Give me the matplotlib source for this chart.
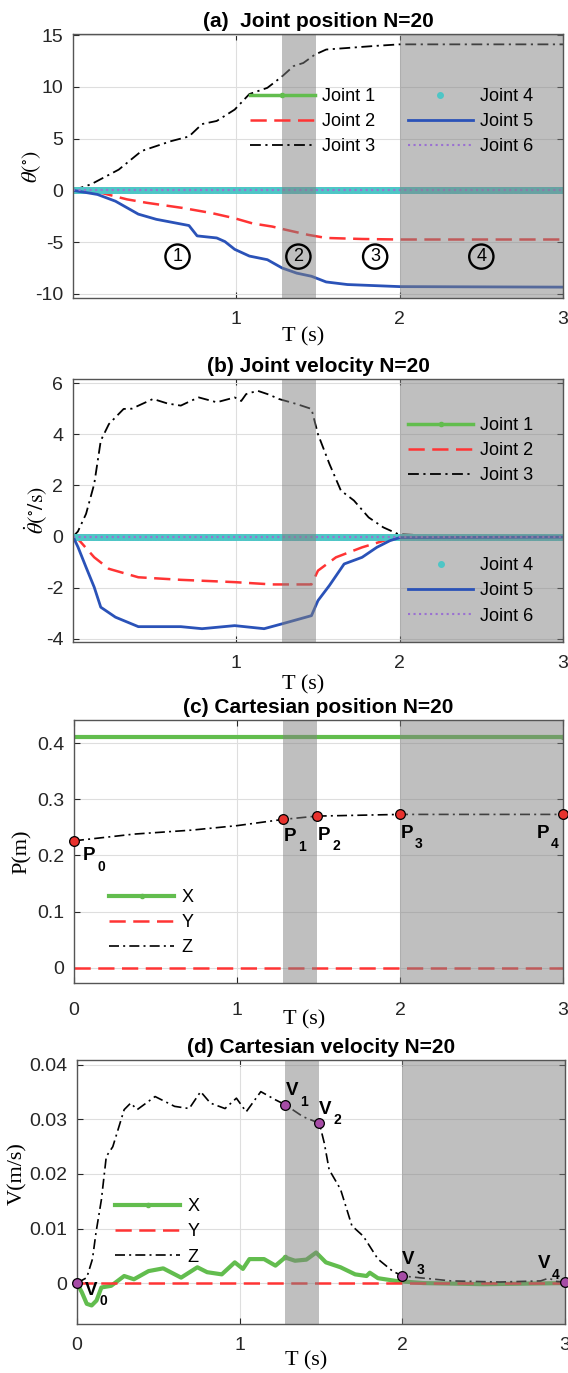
import numpy as np
import matplotlib
matplotlib.use("Agg")
import matplotlib.pyplot as plt

plt.rcParams['font.family'] = ['Liberation Sans', 'DejaVu Sans']
plt.rcParams['mathtext.fontset'] = 'stix'
plt.rcParams['axes.unicode_minus'] = False

# ---------------- data ----------------
# (a) joint position (deg)
t_j2 = [0, 0.05, 0.15, 0.33, 0.45, 0.67, 0.85, 0.99, 1.10, 1.22, 1.30, 1.44, 1.55, 1.77, 2.0, 3.0]
pos_j2 = [0, -0.02, -0.15, -0.87, -1.2, -1.7, -2.2, -2.7, -3.2, -3.5, -3.8, -4.3, -4.6, -4.7, -4.75, -4.75]
t_j3 = [0, 0.11, 0.28, 0.42, 0.60, 0.71, 0.79, 0.88, 0.99, 1.08, 1.19, 1.28, 1.35, 1.41, 1.48, 1.55, 1.68, 1.85, 2.0, 3.0]
pos_j3 = [0, 0.58, 2.0, 3.8, 4.75, 5.2, 6.4, 6.7, 7.8, 9.3, 9.9, 11.0, 12.0, 12.3, 13.1, 13.6, 13.75, 13.95, 14.1, 14.1]
t_j5 = [0, 0.15, 0.26, 0.40, 0.51, 0.71, 0.76, 0.88, 0.93, 0.99, 1.08, 1.19, 1.28, 1.37, 1.46, 1.55, 1.68, 2.0, 3.0]
pos_j5 = [0, -0.4, -1.05, -2.3, -2.8, -3.4, -4.4, -4.6, -4.95, -5.7, -6.35, -6.7, -7.5, -8.0, -8.3, -8.85, -9.1, -9.3, -9.35]

# joints 1, 4, 6 stay at zero; dense time grid for the dotted/marker series
t_dense = np.linspace(0, 3, 301)
zero_dense = np.zeros_like(t_dense)

# (b) joint velocity (deg/s)
tv_j2 = [0, 0.04, 0.13, 0.22, 0.40, 0.66, 0.99, 1.22, 1.46, 1.50, 1.61, 1.77, 1.94, 2.0, 3.0]
vel_j2 = [0, -0.16, -0.81, -1.26, -1.59, -1.69, -1.78, -1.87, -1.87, -1.33, -0.81, -0.42, -0.09, -0.02, 0.0]
tv_j3 = [0, 0.03, 0.08, 0.13, 0.17, 0.22, 0.31, 0.36, 0.49, 0.58, 0.66, 0.72, 0.77, 0.88, 0.99, 1.03,
         1.06, 1.13, 1.20, 1.26, 1.37, 1.46, 1.50, 1.57, 1.64, 1.72, 1.81, 1.90, 1.99, 2.2, 2.5, 2.8, 2.9, 2.95, 3.0]
vel_j3 = [0, 0.2, 0.89, 2.06, 3.75, 4.4, 4.99, 5.0, 5.38, 5.2, 5.12, 5.3, 5.44, 5.25, 5.44, 5.3,
          5.57, 5.7, 5.55, 5.38, 5.18, 4.99, 4.0, 2.84, 1.8, 1.41, 0.75, 0.36, 0.1, 0.03, 0.02, 0.03, 0.07, 0.02, 0.01]
tv_j5 = [0, 0.03, 0.08, 0.13, 0.17, 0.26, 0.40, 0.66, 0.79, 0.99, 1.17, 1.28, 1.46, 1.50, 1.57, 1.66,
         1.77, 1.86, 1.94, 2.0, 2.5, 3.0]
vel_j5 = [0, -0.4, -1.2, -1.98, -2.76, -3.15, -3.52, -3.52, -3.6, -3.48, -3.6, -3.41, -3.09, -2.5, -1.91, -1.07,
          -0.81, -0.42, -0.16, -0.04, -0.03, -0.02]

# (c) cartesian position (m)
tp = [0, 3.0]
px = [0.411, 0.411]
py = [0.0, 0.0]
tp_z = [0, 0.37, 0.72, 1.0, 1.28, 1.49, 2.0, 3.0]
pz = [0.226, 0.238, 0.245, 0.253, 0.264, 0.270, 0.273, 0.273]
tP = [0, 1.28, 1.49, 2.0, 3.0]
zP = [0.226, 0.264, 0.270, 0.273, 0.273]
P_names = ['0', '1', '2', '3', '4']

# (d) cartesian velocity (m/s)
tv_x = [0, 0.03, 0.06, 0.09, 0.12, 0.15, 0.21, 0.29, 0.35, 0.44, 0.53, 0.64, 0.74, 0.80, 0.89, 0.97,
        1.02, 1.06, 1.15, 1.22, 1.28, 1.34, 1.41, 1.47, 1.53, 1.62, 1.71, 1.78, 1.80, 1.85, 1.96, 2.13, 2.5, 3.0]
vx = [0, -0.0017, -0.0038, -0.0041, -0.0032, -0.0008, -0.0005, 0.0013, 0.0007, 0.0022, 0.0027, 0.001,
      0.0029, 0.002, 0.0016, 0.0038, 0.0026, 0.0044, 0.0044, 0.0032, 0.0047, 0.0041, 0.0043, 0.0056,
      0.0038, 0.0029, 0.0016, 0.0013, 0.0019, 0.0009, 0.0004, 0.0, -0.0002, 0.0]
tv_z = [0, 0.06, 0.095, 0.117, 0.15, 0.18, 0.22, 0.29, 0.33, 0.37, 0.48, 0.60, 0.69, 0.76, 0.82, 0.91,
        0.98, 1.04, 1.13, 1.22, 1.28, 1.39, 1.49, 1.52, 1.55, 1.62, 1.69, 1.76, 1.85, 1.94, 2.0, 2.3,
        2.6, 2.85, 2.9, 2.95, 3.0]
vz = [0, 0.001, 0.0044, 0.0093, 0.0153, 0.0232, 0.025, 0.0318, 0.033, 0.0318, 0.0342, 0.0324, 0.032,
      0.0351, 0.033, 0.032, 0.0339, 0.0314, 0.0351, 0.0336, 0.0327, 0.0305, 0.0293, 0.0257, 0.0208,
      0.0172, 0.0105, 0.0086, 0.0044, 0.0022, 0.0013, 0.0004, 0.0002, 0.0004, 0.0009, 0.0003, 0.0002]
tV = [0, 1.28, 1.49, 2.0, 3.0]
vV = [0, 0.0327, 0.0293, 0.0013, 0.0002]

phase2 = (1.28, 1.49)
phase4 = (2.0, 3.0)

# ---------------- styles ----------------
GREEN = '#62bd4e'
RED = '#ff3434'
BLUE = '#2a52b8'
CYAN = '#4ec6c6'
PURPLE = '#9a70d2'
AXC = '#262626'
DASH = (6.5, 3)
DASHDOT = (6, 2.5, 1.2, 2.5)

fig = plt.figure(figsize=(5.68, 13.73), dpi=100)
W, H = 568.0, 1373.0


def make_ax(l, r, top, bot):
    return fig.add_axes([l / W, 1 - bot / H, (r - l) / W, (bot - top) / H])


def style(ax, title, ylabel, xticks, xlab_y, ylab_x, ylab_y=0.5):
    ax.set_xlim(0, 3)
    ax.set_xticks(xticks)
    ax.grid(True, color='#dedede', lw=0.8)
    ax.set_axisbelow(True)
    ax.tick_params(direction='in', top=True, right=True, length=4, width=0.8,
                   labelsize=14, colors=AXC, pad=7)
    ax.tick_params(axis='x', pad=9)
    for s in ax.spines.values():
        s.set_color('#555555')
        s.set_linewidth(1.0)
    ax.set_title(title, fontsize=15, fontweight='bold', pad=5)
    ax.set_xlabel('T (s)', family='Liberation Serif', fontsize=16)
    ax.xaxis.set_label_coords(0.47, xlab_y)
    ax.set_ylabel(ylabel, family='Liberation Serif', fontsize=16, labelpad=0)
    ax.yaxis.set_label_coords(ylab_x, ylab_y)
    for a, b in (phase2, phase4):
        ax.axvspan(a, b, color='0.5', alpha=0.5, lw=0, zorder=2.5)


def joint_lines(ax, t1, y1, t2, y2, t3, y3):
    l1, = ax.plot(t_dense, zero_dense, color=GREEN, lw=2.5, marker='.', ms=6, markevery=150,
                  label='Joint 1')
    l2, = ax.plot(t1, y1, color=RED, lw=1.8, dashes=DASH, label='Joint 2')
    l3, = ax.plot(t2, y2, color='black', lw=1.3, dashes=DASHDOT, label='Joint 3')
    l4, = ax.plot(t_dense, zero_dense, ls='none', color=CYAN, marker='.', ms=8, label='Joint 4')
    l5, = ax.plot(t3, y3, color=BLUE, lw=2.0, label='Joint 5')
    l6, = ax.plot(t_dense, zero_dense, color=PURPLE, lw=1.5, ls=':', label='Joint 6')
    return [l1, l2, l3, l4, l5, l6]


leg_kw = dict(frameon=False, fontsize=13, handlelength=3.6, handletextpad=0.4,
              labelspacing=0.45, borderpad=0, borderaxespad=0, numpoints=1, loc='upper left')

# ---- (a) ----
ax = make_ax(73, 563, 34, 298)
lines = joint_lines(ax, t_j2, pos_j2, t_j3, pos_j3, t_j5, pos_j5)
ax.set_ylim(-10.4, 15.1)
ax.set_yticks([-10, -5, 0, 5, 10, 15])
style(ax, '(a)  Joint position N=20', r'$\theta(^{\circ})$', [1, 2, 3], -0.11, -0.061)
ax.legend(handles=lines, ncol=2, columnspacing=1.8, bbox_to_anchor=(0.361, 0.795), **leg_kw)
for txt, tx in zip(['1', '2', '3', '4'], [0.64, 1.38, 1.85, 2.50]):
    ax.text(tx, -6.4, txt, ha='center', va='center', fontsize=13, zorder=6,
            bbox=dict(boxstyle='circle,pad=0.2', fc='none', ec='black', lw=1.7))

# ---- (b) ----
ax = make_ax(73, 563, 379, 642)
lines = joint_lines(ax, tv_j2, vel_j2, tv_j3, vel_j3, tv_j5, vel_j5)
ax.set_ylim(-4.12, 6.16)
ax.set_yticks([-4, -2, 0, 2, 4, 6])
style(ax, '(b) Joint velocity N=20', r'$\dot{\theta}(^{\circ}/\mathrm{s})$', [1, 2, 3], -0.125, -0.047)
lg1 = ax.legend(handles=lines[:3], bbox_to_anchor=(0.684, 0.855), **leg_kw)
ax.add_artist(lg1)
ax.legend(handles=lines[3:], bbox_to_anchor=(0.684, 0.322), **leg_kw)


def sub_label(ax, x, y, letter, num, dx, dy):
    # letter with a subscript digit, offsets in pixels from the marker
    k = 0.72
    ax.annotate(letter, (x, y), xytext=(dx * k, dy * k), textcoords='offset points',
                ha='left', va='center', fontsize=13.5, fontweight='bold', zorder=7)
    ax.annotate(num, (x, y), xytext=((dx + 18) * k, (dy - 11) * k), textcoords='offset points',
                ha='center', va='center', fontsize=10, fontweight='bold', zorder=7)


# ---- (c) ----
ax = make_ax(74, 563, 720, 983)
ax.plot(tp, px, color=GREEN, lw=3, marker='.', ms=6, markevery=[1], label='X')
ax.plot(tp, py, color=RED, lw=1.8, dashes=DASH, label='Y')
ax.plot(tp_z, pz, color='black', lw=1.2, dashes=DASHDOT, label='Z')
ax.plot(tP, zP, ls='none', marker='o', ms=7, mfc='#e8322e', mec='black', mew=0.9, zorder=4,
        clip_on=False)
ax.set_ylim(-0.027, 0.441)
ax.set_yticks([0, 0.1, 0.2, 0.3, 0.4])
ax.set_yticklabels(['0', '0.1', '0.2', '0.3', '0.4'])
style(ax, '(c) Cartesian position N=20', 'P(m)', [0, 1, 2, 3], -0.105, -0.086)
ax.tick_params(axis='x', pad=14)
ax.legend(bbox_to_anchor=(0.072, 0.357), **leg_kw)
p_off = [(9, -15), (1, -17), (1, -19), (1, -19), (-26, -19)]
for tx, zz, nm, (dx, dy) in zip(tP, zP, P_names, p_off):
    sub_label(ax, tx, zz, 'P', nm, dx, dy)

# ---- (d) ----
ax = make_ax(77, 565, 1060, 1324)
ax.plot(tv_x, vx, color=GREEN, lw=3, marker='.', ms=6, markevery=[20], label='X')
ax.plot(tp, py, color=RED, lw=1.8, dashes=DASH, label='Y')
ax.plot(tv_z, vz, color='black', lw=1.2, dashes=DASHDOT, label='Z')
ax.plot(tV, vV, ls='none', marker='o', ms=7, mfc='#a64ca6', mec='black', mew=0.9, zorder=4,
        clip_on=False)
ax.set_ylim(-0.0075, 0.0409)
ax.set_yticks([0, 0.01, 0.02, 0.03, 0.04])
ax.set_yticklabels(['0', '0.01', '0.02', '0.03', '0.04'])
style(ax, '(d) Cartesian velocity N=20', 'V(m/s)', [0, 1, 2, 3], -0.105, -0.102, 0.57)
ax.legend(bbox_to_anchor=(0.078, 0.476), **leg_kw)
v_off = [(8, -7), (1, 14), (0, 14), (0, 17), (-27, 18)]
for tx, vv, nm, (dx, dy) in zip(tV, vV, P_names, v_off):
    sub_label(ax, tx, vv, 'V', nm, dx, dy)

fig.savefig('out.png', dpi=100)
